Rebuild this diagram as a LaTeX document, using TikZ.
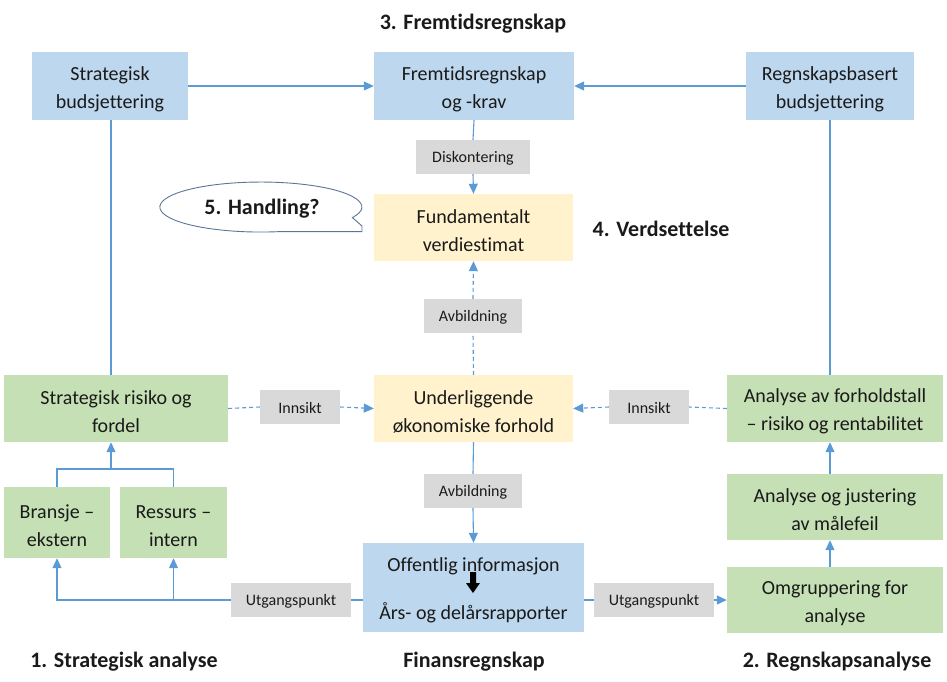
\documentclass[tikz,border=0pt]{standalone}
\usepackage{fontspec}
\setmainfont{Carlito}[Ligatures={NoCommon}]
\usetikzlibrary{arrows.meta,calc}
\definecolor{bluebox}{HTML}{BDD7EE}
\definecolor{greenbox}{HTML}{C5E0B4}
\definecolor{yellowbox}{HTML}{FFF2CC}
\definecolor{greybox}{HTML}{D9D9D9}
\definecolor{linec}{HTML}{5B9BD5}
\definecolor{txt}{HTML}{1A1A1A}
\definecolor{callc}{HTML}{5A7696}
\newcommand\tstrut{\rule{0pt}{20pt}}
\tikzset{
  box/.style={align=center, inner sep=0pt, text=txt,
    font=\fontsize{20}{28}\selectfont},
  bbox/.style={box, fill=bluebox},
  gbox/.style={box, fill=greenbox},
  ybox/.style={box, fill=yellowbox},
  lbl/.style={fill=greybox, inner sep=0pt, text=txt, minimum height=34pt,
    font=\fontsize{16}{19}\selectfont, execute at begin node={\rule{0pt}{14pt}}},
  ttl/.style={text=txt, inner sep=0pt, font=\fontsize{22}{26}\selectfont\bfseries},
  conn/.style={draw=linec, line width=1.1pt},
  arr/.style={conn, -{Triangle[length=10pt,width=9pt]}},
  dconn/.style={conn, dash pattern=on 4pt off 3pt},
  darr/.style={arr, dash pattern=on 4pt off 3pt},
}
\begin{document}
\begin{tikzpicture}[x=1pt,y=-1pt]
\useasboundingbox (0,0) rectangle (947,681);
% titles
\node[ttl] (t3) at (473,24) {3. Fremtidsregnskap};
\node[ttl] (t4) at (661,229) {4. Verdsettelse};
\node[ttl] (t1) at (124,662) {1. Strategisk analyse};
\node[ttl] (tf) at (474,662) {Finansregnskap};
\node[ttl] (t2) at (837,662) {2. Regnskapsanalyse};
% boxes
\node[bbox, minimum width=156pt, minimum height=68pt] (sb) at (110,86) {\tstrut Strategisk\\budsjettering};
\node[bbox, minimum width=200pt, minimum height=68pt] (fk) at (474,86) {\tstrut Fremtidsregnskap\\og -krav};
\node[bbox, minimum width=168pt, minimum height=68pt] (rb) at (830,86) {\tstrut Regnskapsbasert\\budsjettering};
\node[ybox, minimum width=199pt, minimum height=67pt] (fv) at (473.5,227.5) {\tstrut Fundamentalt\\verdiestimat};
\node[gbox, minimum width=224pt, minimum height=67pt] (srf) at (116,408.5) {\tstrut Strategisk risiko og\\fordel};
\node[ybox, minimum width=199pt, minimum height=67pt] (uf) at (473.5,408.5) {\tstrut Underliggende\\økonomiske forhold};
\node[gbox, minimum width=216pt, minimum height=67pt] (aft) at (835,408.5) {\tstrut Analyse av forholdstall\\– risiko og rentabilitet};
\node[gbox, minimum width=106pt, minimum height=71pt] (br) at (57,522.5) {\tstrut Bransje –\\ekstern};
\node[gbox, minimum width=107pt, minimum height=71pt] (re) at (173.5,522.5) {\tstrut Ressurs –\\intern};
\node[bbox, minimum width=221pt, minimum height=89pt] (oi) at (473.5,587.5) {\tstrut Offentlig informasjon\\[20pt]Års- og delårsrapporter};
\node[gbox, minimum width=216pt, minimum height=66pt] (aj) at (835,507) {\tstrut Analyse og justering\\av målefeil};
\node[gbox, minimum width=216pt, minimum height=66pt] (om) at (835,600) {\tstrut Omgruppering for\\analyse};
% labels
\node[lbl, minimum width=114pt] (disk) at (473,157) {Diskontering};
\node[lbl, minimum width=98pt] (av1) at (473,316) {Avbildning};
\node[lbl, minimum width=98pt] (av2) at (473,491) {Avbildning};
\node[lbl, minimum width=80pt] (ins1) at (300,407) {Innsikt};
\node[lbl, minimum width=80pt] (ins2) at (649,407) {Innsikt};
\node[lbl, minimum width=120pt] (ut1) at (291,600) {Utgangspunkt};
\node[lbl, minimum width=120pt] (ut2) at (654,600) {Utgangspunkt};
% block arrow inside oi
\fill[black] (470,572) -- (476,572) -- (476,583) -- (480,583) -- (473,593) -- (466,583) -- (470,583) -- cycle;
% helper coordinates
\coordinate (lx) at (111,469);
\coordinate (rx) at (830,0);
% connectors top row
\draw[arr] (sb.east) -- (fk.west);
\draw[arr] (rb.west) -- (fk.east);
\draw[conn] (fk.south) -- (disk.north);
\draw[arr] (disk.south) -- (fv.north);
\draw[dconn] (uf.north) -- (av1.south);
\draw[darr] (av1.north) -- (fv.south);
\draw[conn] (uf.south) -- (av2.north);
\draw[arr] (av2.south) -- (oi.north);
\draw[dconn] (srf.east) -- (ins1.west);
\draw[darr] (ins1.east) -- (uf.west);
\draw[dconn] (aft.west) -- (ins2.east);
\draw[darr] (ins2.west) -- (uf.east);
% vertical side lines
\draw[conn] (srf.north -| lx) -- (sb.south -| lx);
\draw[conn] (aft.north -| rx) -- (rb.south -| rx);
\draw[arr] (om.north -| rx) -- (aj.south -| rx);
\draw[arr] (aj.north -| rx) -- (aft.south -| rx);
% left tree
\draw[conn] (br.north) |- (lx) -| (re.north);
\draw[arr] (lx) -- (srf.south -| lx);
\draw[conn] (oi.west |- ut1) -- (ut1.east);
\draw[arr] (ut1.west) -| (br.south);
\draw[arr] (ut1 -| re.south) -- (re.south);
% right bottom
\draw[conn] (oi.east |- ut2) -- (ut2.west);
\draw[arr] (ut2.east) -- (om.west);
% callout
\draw[callc, line width=0.9pt, fill=white] (352.4,217.6) arc[start angle=25, end angle=-280, x radius=101, y radius=25] -- (362,231.6) -- (362,226) -- cycle;
\node[ttl] (hand) at (262,209) {5. Handling?};
\end{tikzpicture}
\end{document}
